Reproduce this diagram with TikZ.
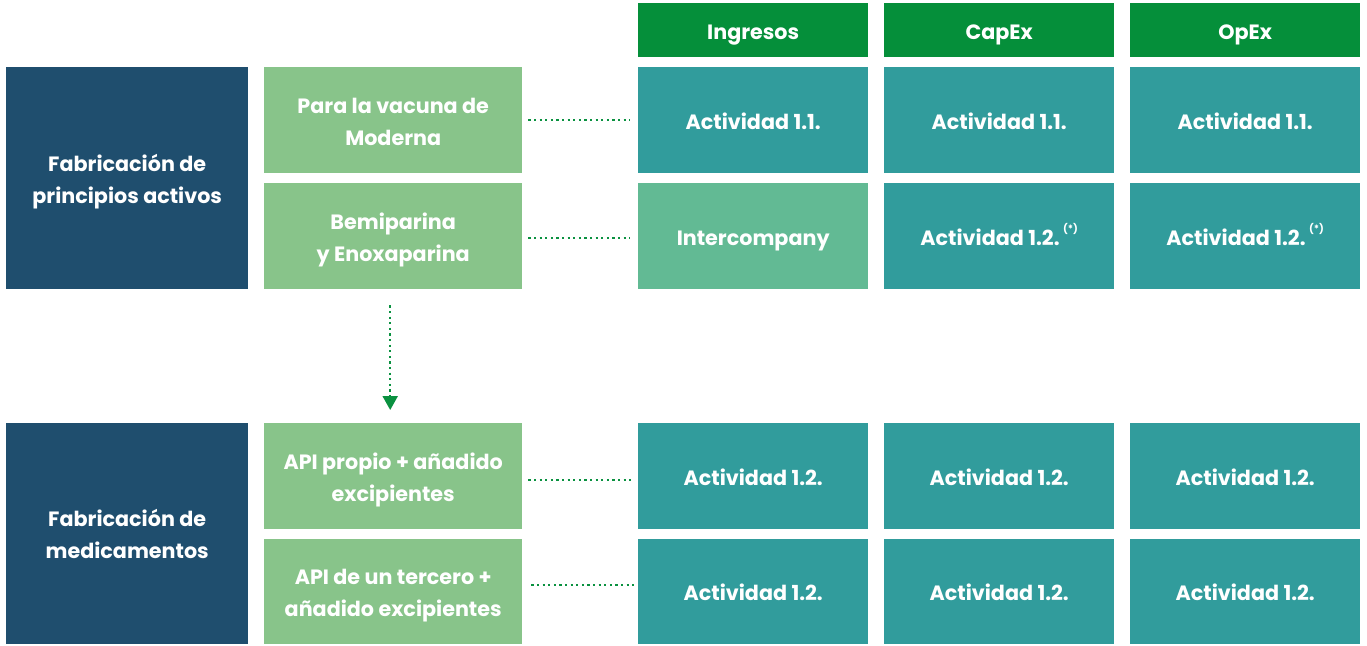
\documentclass[tikz,border=0pt]{standalone}
\usepackage{fontspec}
\setmainfont{Poppins}
\definecolor{dblue}{HTML}{1F4E6E}
\definecolor{lgreen}{HTML}{88C48A}
\definecolor{teal}{HTML}{319C9C}
\definecolor{hgreen}{HTML}{058F3A}
\definecolor{igreen}{HTML}{62BA94}
\definecolor{dotg}{HTML}{0A9140}
\usetikzlibrary{arrows.meta}
\tikzset{
  cell/.style={anchor=north west, inner sep=0pt},
  txt/.style={anchor=base, inner sep=0pt, text=white, font=\fontsize{20.7}{24}\selectfont\bfseries},
  dots/.style={draw=dotg, line width=2.2pt, dash pattern=on 2.2pt off 3.4pt},
}
\newcommand{\cellbox}[6]{% name, x, y, w, h, color
  \node[cell, fill=#6, minimum width=#4pt, minimum height=#5pt] (#1) at (#2pt,-#3pt) {};}
\newcommand{\one}[2]{\node[txt] at ([yshift=-9pt]#1.center) {#2};}
\newcommand{\two}[3]{\node[txt] at ([yshift=7pt]#1.center) {#2};
  \node[txt] at ([yshift=-25pt]#1.center) {#3};}
\newcommand{\starnote}{\,\raisebox{1.1ex}{\fontsize{10}{11}\selectfont(*)}}
\begin{document}
\begin{tikzpicture}[x=1pt,y=1pt]
\useasboundingbox[fill=white] (0,0) rectangle (1367,-645);
% headers
\cellbox{h1}{638}{3}{230}{54}{hgreen}
\cellbox{h2}{884}{3}{230}{54}{hgreen}
\cellbox{h3}{1130}{3}{230}{54}{hgreen}
\node[txt] at ([yshift=-9pt]h1.center) {Ingresos};
\node[txt] at ([yshift=-9pt]h2.center) {CapEx};
\node[txt] at ([yshift=-9pt]h3.center) {OpEx};
% left blue
\cellbox{b1}{6}{67}{242}{222}{dblue}
\cellbox{b2}{6}{423}{242}{221}{dblue}
\two{b1}{Fabricación de}{principios activos}
\two{b2}{Fabricación de}{medicamentos}
% light green
\cellbox{g1}{264}{67}{258}{106}{lgreen}
\cellbox{g2}{264}{183}{258}{106}{lgreen}
\cellbox{g3}{264}{423}{258}{106}{lgreen}
\cellbox{g4}{264}{539}{258}{105}{lgreen}
\two{g1}{Para la vacuna de}{Moderna}
\two{g2}{Bemiparina}{y Enoxaparina}
\two{g3}{API propio + añadido}{excipientes}
\two{g4}{API de un tercero +}{añadido excipientes}
% grid
\cellbox{r1a}{638}{67}{230}{106}{teal}
\cellbox{r1b}{884}{67}{230}{106}{teal}
\cellbox{r1c}{1130}{67}{230}{106}{teal}
\cellbox{r2a}{638}{183}{230}{106}{igreen}
\cellbox{r2b}{884}{183}{230}{106}{teal}
\cellbox{r2c}{1130}{183}{230}{106}{teal}
\cellbox{r3a}{638}{423}{230}{106}{teal}
\cellbox{r3b}{884}{423}{230}{106}{teal}
\cellbox{r3c}{1130}{423}{230}{106}{teal}
\cellbox{r4a}{638}{539}{230}{105}{teal}
\cellbox{r4b}{884}{539}{230}{105}{teal}
\cellbox{r4c}{1130}{539}{230}{105}{teal}
\foreach \n in {r1a,r1b,r1c}{\one{\n}{Actividad 1.1.}}
\foreach \n in {r3a,r3b,r3c,r4a,r4b,r4c}{\one{\n}{Actividad 1.2.}}
\one{r2a}{Intercompany}
\one{r2b}{Actividad 1.2.\starnote}
\one{r2c}{Actividad 1.2.\starnote}
% dotted connectors
\draw[dots] ([xshift=6pt]g1.east) -- ([xshift=-8pt]r1a.west);
\draw[dots] ([xshift=6pt,yshift=-2pt]g2.east) -- ([xshift=-8pt,yshift=-2pt]r2a.west);
\draw[dots] ([xshift=6pt,yshift=-4pt]g3.east) -- ([xshift=-5pt,yshift=-4pt]r3a.west);
\draw[dots] ([xshift=9pt,yshift=6.5pt]g4.east) -- ([xshift=-3pt,yshift=6.5pt]r4a.west);
\coordinate (as) at ([yshift=-16pt]g2.south);
\coordinate (ae) at ([yshift=13pt,xshift=-3pt]b2.north -| g2.south);
\draw[dots, -{Triangle[length=14pt,width=15pt,fill=dotg]}] ([xshift=-3pt]as) -- (ae);
\end{tikzpicture}
\end{document}
